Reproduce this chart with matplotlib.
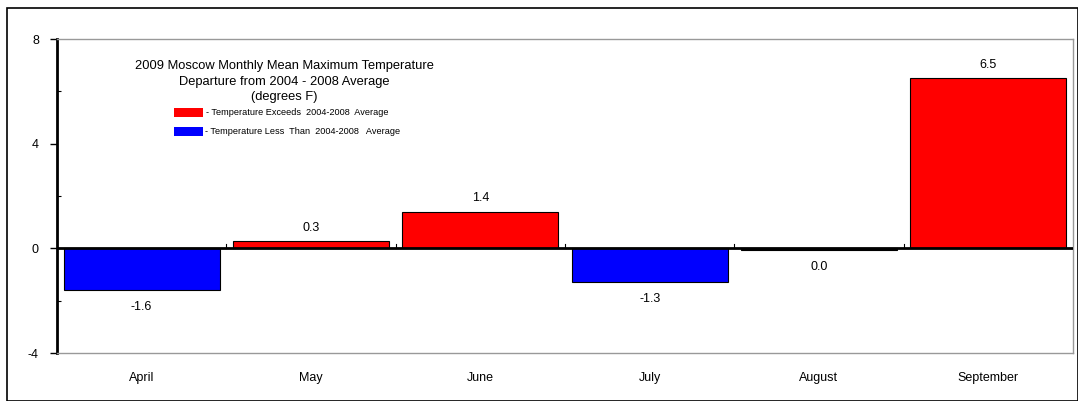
import numpy as np
import matplotlib.pyplot as plt
from matplotlib.patches import Rectangle

plt.rcParams['font.family'] = ['Liberation Sans', 'DejaVu Sans']
plt.rcParams['axes.unicode_minus'] = False

months = ['April', 'May', 'June', 'July', 'August', 'September']
departure = [-1.6, 0.27, 1.4, -1.3, -0.07, 6.5]
labels = ['-1.6', '0.3', '1.4', '-1.3', '0.0', '6.5']

W, H = 1078, 401
fig = plt.figure(figsize=(W / 100, H / 100), dpi=100)
ax = fig.add_axes([57 / W, 1 - 353 / H, (1073 - 57) / W, (353 - 39) / H])

# outer frame
fig.patches.append(Rectangle((7 / W, 0), 1 - 7 / W, 1 - 8 / H, transform=fig.transFigure,
                             fill=False, edgecolor='black', linewidth=1.2))

x = np.arange(len(months))
colors = ['red' if v > 0 else 'blue' for v in departure]
colors[4] = 'black'
ax.bar(x, departure, width=0.92, color=colors, edgecolor='black', linewidth=0.8, zorder=3)

for xi, v, lab in zip(x, departure, labels):
    if v > 0:
        ax.text(xi, v + 0.28, lab, ha='center', va='bottom', fontsize=9)
    else:
        ax.text(xi, v - 0.4, lab, ha='center', va='top', fontsize=9)

ax.set_xlim(-0.5, len(months) - 0.5)
ax.set_ylim(-4, 8)
ax.set_yticks([-4, 0, 4, 8])
ax.set_yticks([-2, 2, 6], minor=True)
ax.set_xticks(x)
ax.set_xticklabels(months, fontsize=9)
ax.tick_params(axis='x', length=0, pad=14)
ax.tick_params(axis='y', labelsize=9, length=5, width=1, direction='out', pad=8)
ax.tick_params(axis='y', which='minor', length=3, width=0.8, direction='in')

ax.axhline(0, color='black', linewidth=2, zorder=4)
# category boundary ticks on the zero line
for b in np.arange(0.5, len(months) - 0.5):
    ax.plot([b, b], [0, 0.18], color='black', linewidth=0.8, zorder=4)

for s in ['top', 'right', 'bottom']:
    ax.spines[s].set_color('#999999')
    ax.spines[s].set_linewidth(1)
ax.spines['left'].set_linewidth(2)

ax.text(0.224, 0.932, '2009 Moscow Monthly Mean Maximum Temperature\nDeparture from 2004 - 2008 Average\n(degrees F)',
        transform=ax.transAxes, ha='center', va='top', fontsize=9.3, linespacing=1.38)

ax.add_patch(Rectangle((0.1155, 0.752), 0.028, 0.028, transform=ax.transAxes,
                       facecolor='red', edgecolor='none'))
ax.add_patch(Rectangle((0.1155, 0.692), 0.028, 0.028, transform=ax.transAxes,
                       facecolor='blue', edgecolor='none'))
ax.text(0.147, 0.766, '- Temperature Exceeds  2004-2008  Average', transform=ax.transAxes,
        ha='left', va='center', fontsize=6.6)
ax.text(0.146, 0.706, '- Temperature Less  Than  2004-2008   Average', transform=ax.transAxes,
        ha='left', va='center', fontsize=6.6)

fig.savefig('out.png', dpi=100)
